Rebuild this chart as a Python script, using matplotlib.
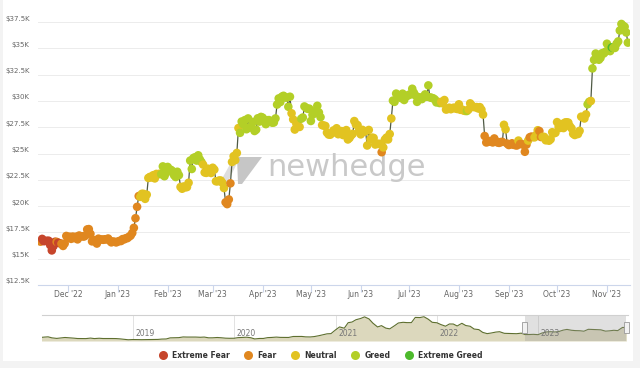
import matplotlib
matplotlib.use("Agg")
import matplotlib.pyplot as plt
import matplotlib.dates as mdates
from matplotlib.patches import Rectangle, Polygon
from matplotlib.lines import Line2D
from matplotlib.transforms import ScaledTranslation
import numpy as np
import pandas as pd

# daily BTC close, 14 Nov 2022 -> 14 Nov 2023
nov22 = [16618, 16884, 16669, 16687, 16697, 16711, 16291, 15787, 16189, 16611, 16602, 16522,
         16458, 16428, 16212, 16442, 17163]
dec22 = [16977, 17092, 16886, 17106, 16967, 17089, 16837, 17206, 17133, 17128, 17104, 17206,
         17782, 17815, 17364, 16647, 16776, 16739, 16439, 16906, 16818, 16830, 16796, 16847,
         16841, 16919, 16717, 16553, 16634, 16607, 16547]
jan23 = [16625, 16688, 16679, 16863, 16837, 16951, 16955, 17092, 17197, 17446, 17935, 18846,
         19931, 20955, 20881, 21169, 21162, 20689, 21087, 22675, 22777, 22721, 22935, 22631,
         23060, 23010, 23078, 23032, 23775, 22840, 23140]
feb23 = [23723, 23472, 23450, 23326, 22933, 22763, 23265, 22940, 21818, 21651, 21870, 21788,
         21808, 22221, 24327, 23528, 24570, 24643, 24327, 24829, 24436, 24188, 23947, 23199,
         23159, 23555, 23492, 23148]
mar23 = [23646, 23470, 22362, 22354, 22436, 22429, 22219, 21718, 20363, 20187, 20632, 22163,
         24197, 24746, 24375, 25052, 27423, 26965, 28039, 27767, 28175, 27307, 28333, 27493,
         27494, 27994, 27139, 27268, 28348, 28033, 28478]
apr23 = [28411, 28199, 27790, 28168, 28175, 28044, 27926, 27948, 28333, 29653, 30235, 29892,
         30400, 30485, 30318, 30315, 29445, 30397, 28822, 28245, 27276, 27817, 27591, 27525,
         28307, 28423, 29473, 29340, 29248, 29268]
may23 = [28091, 28680, 29006, 28847, 29534, 28904, 28455, 27695, 27655, 27621, 26988, 26805,
         26784, 26931, 27192, 27036, 27399, 26832, 26890, 27129, 26754, 26851, 27225, 26334,
         26476, 26719, 26868, 28085, 27745, 27702, 27219]
jun23 = [26819, 27249, 27075, 27119, 25760, 27238, 26345, 26508, 26481, 25851, 25941, 25903,
         25918, 25124, 25577, 26328, 26510, 26336, 26851, 28328, 30027, 29912, 30695, 30548,
         30480, 30271, 30689, 30086, 30446, 30477]
jul23 = [30590, 30620, 31156, 30777, 30514, 29909, 30346, 30292, 30171, 30415, 30620, 30391,
         31476, 30335, 30295, 30249, 30145, 29856, 29913, 29793, 29908, 29771, 30084, 29176,
         29228, 29354, 29210, 29319, 29357, 29275, 29230]
aug23 = [29676, 29152, 29179, 29075, 29043, 29041, 29180, 29766, 29561, 29429, 29397, 29415,
         29283, 29408, 29170, 28701, 26664, 26050, 26100, 26190, 26124, 26051, 26431, 26163,
         26049, 26009, 26090, 26106, 27728, 27298, 25941]
sep23 = [25805, 25869, 25971, 25827, 25793, 25761, 26229, 25904, 25896, 25833, 25163, 25847,
         26228, 26539, 26608, 26568, 26534, 26754, 27211, 27133, 26568, 26580, 26580, 26256,
         26298, 26217, 26352, 27022, 26911, 26967]
oct23 = [27983, 27531, 27430, 27799, 27416, 27947, 27967, 27935, 27584, 27392, 26874, 26757,
         26862, 26853, 27154, 28501, 28415, 28329, 28719, 29682, 29919, 29993, 33087, 33902,
         34503, 34157, 33910, 34089, 34539, 34502, 34667]
nov23 = [35437, 34938, 34732, 35082, 35049, 35037, 35443, 35655, 36693, 37313, 37138, 37054,
         36502, 35537]

# sentiment of each day: E extreme fear, F fear, N neutral, G greed, X extreme greed
mood_nov22 = "FEEEEEEEEE" "FEEFFFF"
mood_dec22 = "FFFFFFFFFF" "FFFFFFFFFF" "FFFFFFFFFF" "F"
mood_jan23 = "FFFFFFFFFF" "FFFF" "NNNNNNNNNN" "NNN" "GGGG"
mood_feb23 = "GGGGGGGG" "NNNNNN" "GGGGGGGG" "NNNNNN"
mood_mar23 = "NNNNNNNN" "FFFF" "NNNNN" "GGGGGGGGGGGGGG"
mood_apr23 = "GGGGGGGGGG" "GGGGGGGG" "NNNNNN" "GGGGGG"
mood_may23 = "GGGGGGG" "NNNNNNNNNN" "NNNNNNNNNN" "NNNN"
mood_jun23 = "NNNNNNNNNN" "NNN" "F" "NNNNNN" "GGGGGGGGGG"
mood_jul23 = "GGGGGGGGGG" "GGGGGGGGGG" "NNNNNNNNNNN"
mood_aug23 = "NNNNNGNNNN" "NNNNNN" "FFFFFFFFFFFF" "NNF"
mood_sep23 = "FFFFFFNFFF" "FFNFFFNNNF" "FNNNNNNNNN"
mood_oct23 = "NNNNNNNNNN" "NNNNNNNNN" "GGN" "GGGGGGGGG"
mood_nov23 = "GGGXGGGGGG" "GGGG"

prices = (nov22 + dec22 + jan23 + feb23 + mar23 + apr23 + may23 + jun23 + jul23 + aug23
          + sep23 + oct23 + nov23)
mood = (mood_nov22 + mood_dec22 + mood_jan23 + mood_feb23 + mood_mar23 + mood_apr23
        + mood_may23 + mood_jun23 + mood_jul23 + mood_aug23 + mood_sep23 + mood_oct23
        + mood_nov23)
dates = pd.date_range("2022-11-14", "2023-11-14", freq="D")
assert len(prices) == len(dates) == len(mood), (len(prices), len(dates), len(mood))

# navigator: half-monthly BTC price, Feb 2018 -> Nov 2023
nav_prices = [
    9170, 10200, 10900, 8200, 6800, 8000, 9200, 8500, 7500, 6500, 6400, 6300,
    7600, 6300, 7200, 6500, 6600, 6500, 6350, 5600, 4200, 3250,
    3850, 3600, 3500, 3600, 3850, 3950, 4150, 5050, 5350, 8200, 8550, 8800,
    10600, 10300, 10400, 10300, 9750, 10300, 8300, 8350, 9150, 8500, 7400, 7100,
    7200, 8800, 9400, 9900, 8550, 5400, 6650, 6650, 8850, 9300, 10200, 9450,
    9230, 9250, 11800, 11900, 11900, 10800, 10600, 11500, 13800, 16000, 18800, 19300,
    29400, 36800, 33500, 47900, 49600, 55600, 58900, 63100, 57800, 46800, 36700, 40200,
    33600, 31800, 39900, 47100, 48900, 48100, 48100, 61700, 61300, 63500, 56900, 48900,
    47700, 43100, 38700, 44500, 44400, 39300, 46300, 40500, 38500, 31300, 29800, 22600,
    19300, 20800, 23300, 24300, 20100, 19700, 19300, 19100, 20500, 16900, 17000, 17400,
    16600, 20900, 23700, 24300, 23600, 24400, 28400, 30300, 28100, 27200, 26800, 25600,
    30600, 30300, 29700, 29200, 25800, 26600, 28000, 27150, 35400, 35500,
]
nav_dates = pd.date_range("2018-02-01", periods=len(nav_prices), freq="SMS")
nav_years = [2019, 2020, 2021, 2022, 2023]

mood_names = ["Extreme Fear", "Fear", "Neutral", "Greed", "Extreme Greed"]
mood_colors = {"E": "#c6452b", "F": "#e0871f", "N": "#e2c321", "G": "#b3cf27", "X": "#4dba2d"}

W, H = 640, 368


def fx(x):
    return x / W


def fy(y):
    return 1 - y / H


fig = plt.figure(figsize=(W / 100, H / 100), dpi=100, facecolor="#f3f3f3")
fig.add_artist(Rectangle((fx(3), fy(361)), fx(630), 361 / H, transform=fig.transFigure,
                         facecolor="white", edgecolor="none", zorder=0))

# main chart
ax = fig.add_axes([fx(38), fy(285), fx(592), 278 / H])
ax.set_facecolor("white")
ax.plot(dates, prices, color="#4f5a45", lw=0.9, zorder=2)
ax.scatter(dates, prices, c=[mood_colors[m] for m in mood], s=38, edgecolors="none", zorder=3)

ax.set_xlim(mdates.date2num(pd.Timestamp("2022-11-12 10:00")),
            mdates.date2num(pd.Timestamp("2023-11-15 08:00")))
ax.set_ylim(12500, 12500 + 278 / 26.3 * 2500)

months = pd.date_range("2022-12-01", "2023-11-01", freq="MS")
ax.set_xticks(months)
ax.set_xticklabels([m.strftime("%b '%y") for m in months])
yt = np.arange(12500, 37501, 2500)
ax.set_yticks(yt)
ax.set_yticklabels([f"${v / 1000:g}K" for v in yt])
ax.tick_params(axis="x", length=5, width=0.8, color="#ccd6eb", labelsize=5.5,
               labelcolor="#666666", pad=-1.5)
ax.tick_params(axis="y", length=0, labelsize=5, labelcolor="#666666", pad=6)
for lab in ax.get_yticklabels():
    lab.set_transform(lab.get_transform() + ScaledTranslation(0, 0.04, fig.dpi_scale_trans))
for s in ["top", "right", "left"]:
    ax.spines[s].set_visible(False)
ax.spines["bottom"].set_color("#ccd6eb")
ax.spines["bottom"].set_linewidth(0.8)
ax.yaxis.grid(True, color="#ececec", lw=0.7)
ax.set_axisbelow(True)

# watermark
ax.text(fx(267), fy(168), "newhedge", transform=fig.transFigure, fontsize=22,
        color="#c9c9c9", ha="left", va="center", zorder=1)
ax.add_patch(Polygon([(fx(219), fy(184)), (fx(233), fy(159)), (fx(239), fy(159)),
                      (fx(227), fy(184))], closed=True, transform=fig.transFigure,
                     facecolor="#dedede", edgecolor="none", zorder=1, clip_on=False))
ax.add_patch(Polygon([(fx(237), fy(157)), (fx(262), fy(157)), (fx(242), fy(184)),
                      (fx(238), fy(184))], closed=True, transform=fig.transFigure,
                     facecolor="#c6c6c6", edgecolor="none", zorder=1, clip_on=False))

# navigator
nav = fig.add_axes([fx(42), fy(341), fx(586), 26 / H])
nav.fill_between(nav_dates, nav_prices, 0, color="#dcd8bd", lw=0, zorder=1)
nav.plot(nav_dates, nav_prices, color="#5e6f2f", lw=0.8, zorder=2)
nav.set_xlim(mdates.date2num(pd.Timestamp("2018-02-07")),
             mdates.date2num(pd.Timestamp("2023-11-21")))
nav.set_ylim(0, 68000)
for yr in nav_years:
    d = pd.Timestamp(f"{yr}-01-01")
    nav.axvline(d, color="#e2e2e2", lw=0.7, zorder=0)
    nav.text(d + pd.Timedelta(days=10), 0.12, str(yr), transform=nav.get_xaxis_transform(),
             fontsize=5.5, color="#777777", ha="left", va="bottom", zorder=3)
nav.axvspan(dates[0], dates[-1], color="#9a9a9a", alpha=0.3, lw=0, zorder=2.5)
for d in [dates[0], dates[-1]]:
    nav.add_patch(Rectangle((mdates.date2num(d) - 9, 0.3), 18, 0.42,
                            transform=nav.get_xaxis_transform(), facecolor="#f2f2f2",
                            edgecolor="#999999", lw=0.6, zorder=4, clip_on=False))
nav.set_xticks([])
nav.set_yticks([])
for s in ["right", "left", "bottom"]:
    nav.spines[s].set_visible(False)
nav.spines["top"].set_color("#d0d0d0")

# legend
handles = [Line2D([], [], marker="o", ls="", markersize=6.5, markeredgecolor="none",
                  markerfacecolor=mood_colors[k]) for k in "EFNGX"]
leg = fig.legend(handles, mood_names, loc="center", bbox_to_anchor=(fx(319), fy(355)),
                 ncol=5, frameon=False, handletextpad=0.2, columnspacing=1.4,
                 prop={"size": 5.5, "weight": "bold"})
for t in leg.get_texts():
    t.set_color("#333333")

fig.savefig("out.png", dpi=100, facecolor=fig.get_facecolor())
